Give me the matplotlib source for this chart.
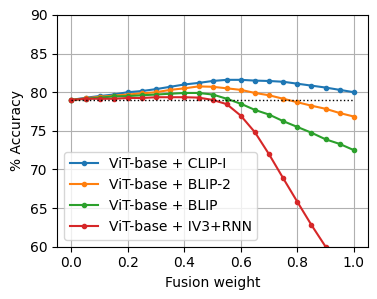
import numpy as np
import matplotlib
matplotlib.use('Agg')
import matplotlib.pyplot as plt

# fusion weights 0.0 .. 1.0, step 0.05
weights = [0.0, 0.05, 0.1, 0.15, 0.2, 0.25, 0.3, 0.35, 0.4, 0.45, 0.5,
           0.55, 0.6, 0.65, 0.7, 0.75, 0.8, 0.85, 0.9, 0.95, 1.0]

clip_i = [79.0, 79.28, 79.5, 79.7, 80.0, 80.15, 80.4, 80.7, 81.0, 81.2, 81.45,
          81.6, 81.6, 81.5, 81.45, 81.35, 81.1, 80.85, 80.6, 80.3, 80.0]
blip2 = [79.0, 79.2, 79.4, 79.55, 79.7, 79.85, 80.0, 80.3, 80.5, 80.75, 80.7,
         80.5, 80.3, 79.9, 79.6, 79.15, 78.7, 78.25, 77.85, 77.3, 76.85]
blip = [79.0, 79.15, 79.3, 79.45, 79.5, 79.6, 79.7, 79.8, 79.9, 79.9, 79.7,
        79.15, 78.5, 77.7, 77.1, 76.25, 75.5, 74.75, 73.9, 73.3, 72.5]
iv3_rnn = [79.0, 79.15, 79.15, 79.15, 79.25, 79.25, 79.35, 79.35, 79.35, 79.3, 79.0,
           78.45, 76.95, 74.8, 71.95, 68.85, 65.8, 62.8, 60.0, 57.0, 54.0]

baseline = 79.0
labels = ['ViT-base + CLIP-I', 'ViT-base + BLIP-2', 'ViT-base + BLIP', 'ViT-base + IV3+RNN']

fig, ax = plt.subplots(figsize=(3.77, 2.99), dpi=100)
fig.subplots_adjust(left=0.152, right=0.976, top=0.95, bottom=0.175)

for series, label in zip([clip_i, blip2, blip, iv3_rnn], labels):
    ax.plot(weights, series, '.-', label=label)

ax.plot([weights[0], weights[-1]], [baseline, baseline], 'k:', linewidth=1)

ax.set_ylim(60, 90)
ax.set_xlabel('Fusion weight')
ax.set_ylabel('% Accuracy')
ax.grid(True)
ax.legend(loc='lower left')

fig.savefig('out.png', dpi=100)
